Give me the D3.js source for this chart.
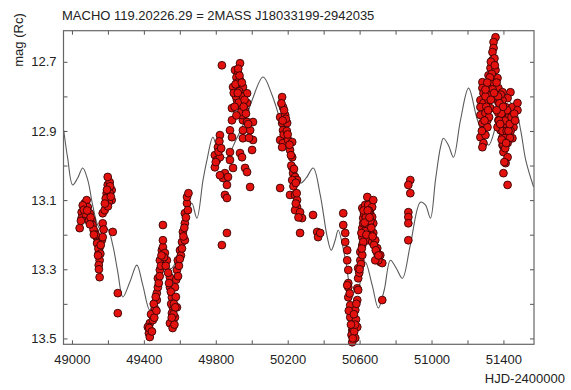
<!DOCTYPE html>
<html>
<head>
<meta charset="utf-8">
<script src="https://cdn.jsdelivr.net/npm/d3@7"></script>
<style>
  body { margin: 0; background: #fff; }
  text { font-family: "Liberation Sans", Arial, sans-serif; fill: #222; }
</style>
</head>
<body>
<svg id="chart" width="571" height="390"></svg>
<script>
// model light curve (grey line)
const curveDay = [48954, 48976, 49004, 49032, 49060, 49088, 49115, 49143, 49171, 49199, 49227, 49255, 49283, 49322, 49361, 49394, 49433, 49478, 49517, 49556, 49601, 49640, 49667, 49695, 49729, 49751, 49784, 49812, 49857, 49912, 49963, 50002, 50063, 50113, 50174, 50225, 50269, 50303, 50342, 50381, 50420, 50442, 50464, 50481, 50520, 50559, 50592, 50631, 50670, 50704, 50737, 50771, 50804, 50838, 50882, 50938, 50966, 50994, 51022, 51050, 51066, 51094, 51122, 51161, 51206, 51256, 51317, 51367, 51417, 51468, 51496, 51524, 51568];
const curveMag = [12.898, 12.978, 13.056, 13.036, 13.007, 13.042, 13.114, 13.172, 13.192, 13.184, 13.230, 13.308, 13.380, 13.337, 13.288, 13.346, 13.418, 13.355, 13.294, 13.297, 13.230, 13.143, 13.109, 13.152, 13.042, 12.984, 12.918, 12.955, 12.978, 12.926, 12.869, 12.811, 12.744, 12.796, 12.898, 12.999, 13.051, 13.036, 13.007, 13.085, 13.207, 13.245, 13.216, 13.187, 13.268, 13.366, 13.355, 13.279, 13.346, 13.412, 13.360, 13.274, 13.297, 13.326, 13.230, 13.106, 13.114, 13.152, 13.042, 12.947, 12.921, 12.941, 12.976, 12.869, 12.776, 12.869, 12.941, 12.869, 12.811, 12.840, 12.898, 12.984, 13.062];

// MACHO observations [HJD-2400000, mag], one array per season
const season1993 = [[49043,13.181],[49054,13.135],[49054,13.152],[49071,13.109],[49082,13.100],[49088,13.120],[49099,13.138],[49110,13.158],[49115,13.172],[49127,13.192],[49138,13.207],[49143,13.221],[49154,13.236],[49149,13.253],[49154,13.274],[49149,13.288],[49154,13.323],[49166,13.216],[49171,13.207],[49171,13.167],[49171,13.138],[49182,13.129],[49193,13.080],[49193,13.094],[49199,13.056],[49210,13.048],[49199,13.033],[49221,13.071],[49221,13.100],[49227,13.192],[49210,13.080],[49255,13.369],[49255,13.427],[49060,13.115],[49076,13.140],[49094,13.160],[49104,13.150],[49120,13.185],[49132,13.200],[49140,13.225],[49147,13.240],[49158,13.255],[49160,13.230],[49212,13.060],[49205,13.105],[49200,13.118],[49188,13.095],[49176,13.185],[49050,13.160],[49066,13.128],[49085,13.130],[49100,13.170],[49122,13.200],[49145,13.260],[49150,13.300],[49183,13.110],[49195,13.070],[49216,13.090]];
const season1994 = [[49433,13.456],[49422,13.467],[49428,13.485],[49433,13.496],[49450,13.447],[49461,13.413],[49472,13.389],[49472,13.369],[49478,13.352],[49478,13.326],[49489,13.302],[49489,13.274],[49500,13.245],[49506,13.236],[49506,13.216],[49506,13.172],[49517,13.253],[49528,13.274],[49545,13.323],[49545,13.352],[49556,13.381],[49561,13.410],[49556,13.427],[49545,13.456],[49573,13.439],[49584,13.410],[49573,13.352],[49584,13.302],[49589,13.274],[49601,13.245],[49612,13.221],[49617,13.192],[49628,13.167],[49628,13.138],[49640,13.109],[49640,13.091],[49645,13.129],[49628,13.216],[49440,13.430],[49455,13.400],[49466,13.380],[49483,13.340],[49495,13.290],[49512,13.265],[49522,13.290],[49535,13.310],[49540,13.340],[49550,13.365],[49552,13.400],[49565,13.430],[49578,13.380],[49580,13.330],[49595,13.290],[49606,13.260],[49620,13.205],[49634,13.150],[49648,13.080],[49560,13.470],[49570,13.460],[49430,13.470],[49445,13.480],[49458,13.440],[49470,13.420],[49488,13.320],[49498,13.260],[49555,13.440],[49567,13.400],[49575,13.410],[49590,13.320],[49600,13.270],[49612,13.240],[49625,13.180]];
const season1995 = [[49834,12.710],[49907,12.724],[49935,12.704],[49924,12.733],[49935,12.753],[49918,12.773],[49896,12.773],[49907,12.791],[49918,12.811],[49951,12.773],[49974,12.791],[49974,12.819],[49963,12.840],[49946,12.831],[49951,12.869],[49974,12.874],[50007,12.874],[49991,12.898],[49951,12.898],[49946,12.854],[49890,12.834],[49890,12.869],[49879,12.898],[49890,12.918],[49951,12.921],[50007,12.926],[50002,12.955],[49935,12.964],[49946,12.976],[49879,12.961],[49823,12.912],[49812,12.947],[49795,12.970],[49807,12.984],[49795,13.005],[49823,12.976],[49879,12.984],[49896,13.007],[49963,13.007],[49974,13.019],[49851,13.022],[49840,13.036],[49868,13.033],[49862,13.056],[49851,13.085],[49862,13.094],[49991,13.062],[49862,13.195],[49834,13.230],[49823,13.028],[49915,12.745],[49920,12.760],[49930,12.785],[49940,12.800],[49912,12.800],[49928,12.818],[49905,12.830],[49960,12.810],[49942,12.845],[49915,12.855],[49820,12.930],[49815,12.960],[49830,12.950],[49800,12.990],[49925,12.720],[49932,12.740],[49910,12.765],[49900,12.790],[49922,12.790],[49945,12.760],[49955,12.830],[49968,12.850],[49980,12.880],[49985,12.920]];
const season1996 = [[50169,12.802],[50174,12.831],[50158,12.860],[50186,12.854],[50169,12.877],[50197,12.877],[50174,12.898],[50158,12.926],[50174,12.935],[50169,12.947],[50202,12.926],[50225,12.932],[50213,12.955],[50225,12.976],[50225,13.005],[50230,13.022],[50241,13.033],[50252,13.042],[50225,13.042],[50158,13.065],[50213,13.085],[50241,13.085],[50252,13.100],[50252,13.120],[50241,13.129],[50269,13.135],[50280,13.152],[50269,13.195],[50341,13.143],[50364,13.192],[50369,13.207],[50381,13.195],[50180,12.840],[50190,12.865],[50178,12.910],[50195,12.900],[50220,13.000],[50232,13.060],[50245,13.110],[50260,13.150],[50165,12.820],[50172,12.870],[50200,12.910],[50210,12.940],[50218,12.970],[50235,13.010],[50245,13.050],[50250,13.080]];
const season1997 = [[50509,13.138],[50509,13.172],[50520,13.195],[50520,13.221],[50531,13.245],[50531,13.274],[50537,13.302],[50537,13.340],[50537,13.352],[50537,13.381],[50548,13.404],[50559,13.424],[50559,13.439],[50565,13.456],[50559,13.476],[50565,13.490],[50559,13.511],[50576,13.499],[50565,13.476],[50548,13.439],[50587,13.467],[50576,13.418],[50587,13.389],[50587,13.355],[50592,13.326],[50592,13.297],[50604,13.274],[50604,13.250],[50615,13.230],[50615,13.207],[50615,13.181],[50620,13.167],[50620,13.152],[50615,13.123],[50631,13.114],[50643,13.091],[50648,13.114],[50659,13.138],[50670,13.120],[50670,13.149],[50676,13.100],[50676,13.167],[50676,13.195],[50659,13.195],[50643,13.201],[50643,13.216],[50620,13.221],[50670,13.221],[50687,13.216],[50698,13.239],[50698,13.253],[50715,13.259],[50715,13.279],[50726,13.282],[50704,13.274],[50687,13.274],[50615,13.259],[50592,13.360],[50726,13.389],[50531,13.346],[50625,13.140],[50635,13.150],[50650,13.170],[50660,13.160],[50640,13.180],[50630,13.190],[50610,13.195],[50652,13.130],[50555,13.490],[50570,13.480],[50562,13.500],[50580,13.445],[50540,13.420],[50545,13.370],[50598,13.310],[50608,13.285],[50622,13.130],[50628,13.165],[50638,13.200],[50645,13.130],[50655,13.150],[50665,13.180],[50672,13.205],[50680,13.230],[50690,13.245],[50705,13.260],[50612,13.240],[50600,13.300],[50582,13.400],[50575,13.460],[50568,13.430],[50552,13.460]];
const season1998 = [[50882,13.042],[50871,13.056],[50882,13.080],[50871,13.135],[50871,13.149],[50871,13.167],[50871,13.216]];
const season1999 = [[51356,12.629],[51345,12.643],[51345,12.660],[51339,12.672],[51339,12.695],[51345,12.704],[51328,12.718],[51356,12.724],[51317,12.739],[51339,12.753],[51367,12.747],[51328,12.767],[51356,12.773],[51372,12.776],[51283,12.759],[51283,12.776],[51289,12.791],[51272,12.811],[51289,12.819],[51328,12.791],[51317,12.811],[51395,12.788],[51439,12.788],[51423,12.805],[51395,12.811],[51372,12.817],[51412,12.831],[51450,12.831],[51478,12.819],[51478,12.840],[51450,12.854],[51423,12.854],[51395,12.860],[51372,12.869],[51400,12.874],[51428,12.877],[51456,12.889],[51412,12.898],[51384,12.898],[51395,12.918],[51423,12.921],[51450,12.921],[51423,12.935],[51395,12.941],[51400,12.961],[51423,12.976],[51412,12.993],[51400,13.022],[51423,13.056],[51272,12.831],[51272,12.854],[51300,12.848],[51283,12.877],[51311,12.869],[51289,12.898],[51272,12.918],[51289,12.935],[51283,12.947],[51311,12.889],[51300,12.912],[51328,12.834],[51356,12.805],[51372,12.848],[51367,12.889],[51350,12.690],[51335,12.735],[51345,12.760],[51325,12.745],[51300,12.800],[51305,12.830],[51320,12.860],[51340,12.780],[51360,12.800],[51380,12.840],[51390,12.870],[51405,12.850],[51415,12.880],[51430,12.860],[51440,12.900],[51410,12.910],[51395,12.900],[51420,12.840],[51385,12.795],[51300,12.780],[51310,12.760],[51330,12.700],[51352,12.710],[51362,12.760],[51370,12.800],[51378,12.820],[51388,12.850],[51398,12.830],[51408,12.870],[51418,12.900],[51428,12.900],[51435,12.880],[51445,12.860],[51460,12.850],[51465,12.870],[51400,12.940],[51410,12.950],[51390,12.925],[51280,12.900],[51295,12.870],[51315,12.840],[51330,12.810],[51348,12.790],[51362,12.840],[51375,12.870],[51382,12.880],[51436,12.920],[51415,12.935],[51405,12.990]];

const xTicks = d3.range(49000, 51600, 200);
const xLabels = [49000, 49400, 49800, 50200, 50600, 51000, 51400];
const yTicks = [12.7, 12.8, 12.9, 13.0, 13.1, 13.2, 13.3, 13.4, 13.5];
const yLabels = [12.7, 12.9, 13.1, 13.3, 13.5];

const svg = d3.select('#chart');
const plotL = 63.5, plotR = 534, plotT = 30.7, plotB = 344.3;

const x = d3.scaleLinear().domain([48953, 51570]).range([plotL, plotR]);
const y = d3.scaleLinear().domain([12.61, 13.517]).range([plotT, plotB]);

// title and axis names
svg.append('text').attr('x', 62).attr('y', 20).attr('font-size', 13).text('MACHO 119.20226.29 = 2MASS J18033199-2942035');
svg.append('text').attr('transform', 'translate(23,40) rotate(-90)').attr('text-anchor', 'middle')
  .attr('font-size', 13).text('mag (Rc)');
svg.append('text').attr('x', 565).attr('y', 383).attr('text-anchor', 'end').attr('font-size', 13).text('HJD-2400000');

const clip = svg.append('defs').append('clipPath').attr('id', 'plot');
clip.append('rect').attr('x', plotL).attr('y', plotT).attr('width', plotR - plotL).attr('height', plotB - plotT);

// model curve
const line = d3.line()
  .x((d, i) => x(curveDay[i]))
  .y(d => y(d))
  .curve(d3.curveCatmullRom.alpha(0.5));
svg.append('path')
  .attr('clip-path', 'url(#plot)')
  .attr('d', line(curveMag))
  .attr('fill', 'none')
  .attr('stroke', '#5a5a5a')
  .attr('stroke-width', 1.1);

// observations
const obs = [].concat(season1993, season1994, season1995, season1996, season1997, season1998, season1999);
svg.append('g')
  .selectAll('circle')
  .data(obs)
  .enter()
  .append('circle')
  .attr('cx', d => x(d[0]))
  .attr('cy', d => y(d[1]))
  .attr('r', 3.9)
  .attr('fill', '#e3120f')
  .attr('stroke', '#350404')
  .attr('stroke-width', 0.9);

// axes, ticks pointing inwards
const fmtX = d => xLabels.includes(d) ? d : '';
const fmtY = d => yLabels.some(v => Math.abs(v - d) < 1e-6) ? d.toFixed(1) : '';

const gx = svg.append('g').attr('transform', `translate(0,${plotB})`)
  .call(d3.axisBottom(x).tickValues(xTicks).tickSizeInner(-4).tickSizeOuter(0).tickPadding(10).tickFormat(fmtX));
const gxt = svg.append('g').attr('transform', `translate(0,${plotT})`)
  .call(d3.axisTop(x).tickValues(xTicks).tickSizeInner(-4).tickSizeOuter(0).tickFormat(''));
const gy = svg.append('g').attr('transform', `translate(${plotL},0)`)
  .call(d3.axisLeft(y).tickValues(yTicks).tickSizeInner(-4).tickSizeOuter(0).tickPadding(7).tickFormat(fmtY));
const gyr = svg.append('g').attr('transform', `translate(${plotR},0)`)
  .call(d3.axisRight(y).tickValues(yTicks).tickSizeInner(-4).tickSizeOuter(0).tickFormat(''));

[gx, gxt, gy, gyr].forEach(g => {
  g.select('.domain').remove();
  g.selectAll('line').attr('stroke', '#555');
  g.selectAll('text').attr('font-size', 13).attr('fill', '#222')
    .attr('font-family', '"Liberation Sans", Arial, sans-serif');
});

svg.append('rect')
  .attr('x', plotL).attr('y', plotT)
  .attr('width', plotR - plotL).attr('height', plotB - plotT)
  .attr('fill', 'none')
  .attr('stroke', '#666')
  .attr('stroke-width', 1.2);
</script>
</body>
</html>
